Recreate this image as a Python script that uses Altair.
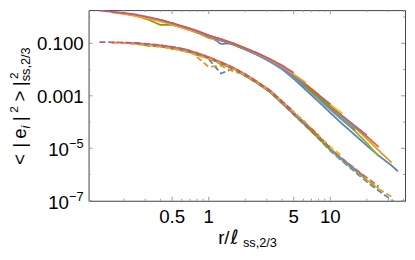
import altair as alt
import pandas as pd

FONT = "Liberation Sans"

# shared log-spaced abscissa grid (r / l_ss,2/3)
grid_x = [0.126, 0.16, 0.2, 0.25, 0.32, 0.4, 0.5, 0.63, 0.8, 1.0, 1.26, 1.6, 2.0,
          2.5, 3.2, 4.0, 5.0, 6.3, 8.0, 10.0, 12.6, 16.0, 20.0, 25.0, 32.0, 36.0]

series_names = ["c01", "c02", "c03", "c04", "c05", "c06", "c07",
                "c08", "c09", "c10", "c11", "c12", "c13", "c14"]
series_colors = ["#5E81B5", "#E19C24", "#8FB032", "#EB6235", "#8778B3", "#C56E1A", "#5D9EC7",
                 "#FFBF00", "#A5609D", "#929600", "#E95536", "#6685D9", "#F89F13", "#BC5B80"]
series_start = [9, 8, 7, 7, 6, 5, 5, 4, 3, 3, 2, 1, 1, 0]

# log10 of <|e_1|^2> (solid, upper bundle)
upper_log = [
    [-0.70, -1.02, -1.00, -1.22, -1.42, -1.70, -1.98, -2.35, -2.78, -3.22, -3.65, -4.08, -4.50, -4.90, -5.28, -5.66, -5.88],
    [-0.58, -0.80, -0.90, -1.00, -1.18, -1.40, -1.64, -1.90, -2.22, -2.60, -3.02, -3.42, -3.82, -4.22, -4.64, -5.08, -5.55],
    [-0.42, -0.60, -0.74, -0.84, -1.05, -1.22, -1.43, -1.68, -1.95, -2.28, -2.68, -3.10, -3.52, -3.93, -4.35, -4.80, -5.30],
    [-0.36, -0.52, -0.70, -0.88, -1.02, -1.20, -1.38, -1.62, -1.88, -2.20, -2.58, -2.98, -3.38, -3.78, -4.18, -4.55, -4.95],
    [-0.22, -0.40, -0.54, -0.70, -0.85, -1.02, -1.20, -1.38, -1.63, -1.89, -2.21, -2.58, -2.98, -3.38, -3.77, -4.15, -4.50],
    [-0.13, -0.26, -0.38, -0.56, -0.73, -0.87, -1.04, -1.22, -1.42, -1.67, -1.93, -2.27, -2.66, -3.07, -3.48, -3.90, -4.30],
    [-0.10, -0.25, -0.41, -0.57, -0.74, -0.88, -1.05, -1.24, -1.44, -1.70, -1.97, -2.30, -2.70, -3.12, -3.53, -3.92, -4.28],
    [-0.03, -0.12, -0.23, -0.38, -0.53, -0.70, -0.84, -1.00, -1.18, -1.37, -1.62, -1.88, -2.20, -2.57, -2.96, -3.33, -3.68],
    [0.07, -0.03, -0.12, -0.25, -0.40, -0.55, -0.71, -0.85, -1.02, -1.20, -1.39, -1.64, -1.90, -2.22, -2.58, -2.97, -3.32],
    [0.06, -0.10, -0.30, -0.30, -0.42, -0.57, -0.73, -0.88, -1.05, -1.23, -1.42, -1.67, -1.93, -2.26, -2.64, -3.05, -3.40],
    [0.14, 0.06, -0.04, -0.13, -0.26, -0.40, -0.56, -0.72, -0.86, -1.03, -1.21, -1.40, -1.64, -1.90, -2.22, -2.58, -2.95],
    [0.19, 0.14, 0.07, -0.03, -0.12, -0.25, -0.40, -0.56, -0.73, -0.87, -1.04, -1.22, -1.42, -1.67, -1.93, -2.25, -2.60],
    [0.18, 0.12, 0.04, -0.06, -0.16, -0.28, -0.44, -0.56, -0.71, -0.85, -1.02, -1.20, -1.39, -1.63, -1.88, -2.18, -2.50],
    [0.25, 0.20, 0.16, 0.10, 0.00, -0.10, -0.23, -0.37, -0.53, -0.70, -0.84, -1.01, -1.19, -1.37, -1.60, -1.84, -2.12],
]

# log10 of <|e_2|^2> (dashed, lower bundle)
lower_log = [
    [-1.60, -2.15, -1.95, -2.24, -2.50, -2.84, -3.28, -3.72, -4.16, -4.62, -5.10, -5.50, -5.90, -6.28, -6.62, -6.97, -7.15],
    [-1.52, -1.90, -1.85, -2.08, -2.18, -2.50, -2.85, -3.27, -3.68, -4.12, -4.58, -5.05, -5.45, -5.85, -6.22, -6.55, -6.85],
    [-1.28, -1.45, -1.56, -1.80, -1.97, -2.24, -2.52, -2.86, -3.28, -3.70, -4.15, -4.62, -5.08, -5.47, -5.86, -6.22, -6.52],
    [-1.22, -1.36, -1.52, -1.72, -1.93, -2.18, -2.46, -2.80, -3.22, -3.64, -4.08, -4.54, -5.00, -5.40, -5.78, -6.12, -6.45],
    [-1.18, -1.30, -1.40, -1.55, -1.74, -1.95, -2.20, -2.47, -2.81, -3.23, -3.65, -4.08, -4.55, -5.02, -5.42, -5.80, -6.15],
    [-1.10, -1.20, -1.25, -1.42, -1.56, -1.74, -1.97, -2.22, -2.50, -2.84, -3.26, -3.68, -4.12, -4.59, -5.06, -5.46, -5.84],
    [-1.12, -1.16, -1.26, -1.40, -1.57, -1.76, -1.98, -2.23, -2.51, -2.85, -3.28, -3.71, -4.15, -4.62, -5.08, -5.48, -5.85],
    [-1.04, -1.09, -1.14, -1.22, -1.36, -1.52, -1.71, -1.93, -2.18, -2.45, -2.79, -3.20, -3.62, -4.05, -4.50, -4.95, -5.30],
    [-0.99, -1.03, -1.08, -1.15, -1.24, -1.38, -1.54, -1.73, -1.95, -2.20, -2.48, -2.82, -3.24, -3.66, -4.10, -4.55, -4.98],
    [-1.00, -1.10, -1.12, -1.20, -1.26, -1.40, -1.57, -1.76, -1.98, -2.23, -2.51, -2.86, -3.28, -3.70, -4.14, -4.60, -5.04],
    [-0.97, -0.99, -1.04, -1.08, -1.14, -1.23, -1.38, -1.54, -1.73, -1.95, -2.20, -2.48, -2.82, -3.24, -3.66, -4.08, -4.50],
    [-0.96, -0.98, -1.00, -1.05, -1.10, -1.16, -1.25, -1.40, -1.56, -1.75, -1.97, -2.22, -2.50, -2.84, -3.26, -3.68, -4.12],
    [-0.97, -0.99, -1.03, -1.08, -1.13, -1.20, -1.30, -1.45, -1.58, -1.75, -1.96, -2.21, -2.48, -2.82, -3.22, -3.62, -4.02],
    [-0.95, -0.96, -0.97, -0.99, -1.02, -1.07, -1.13, -1.22, -1.37, -1.53, -1.72, -1.93, -2.18, -2.46, -2.80, -3.20, -3.60],
]

x_major_ticks = [0.5, 1, 5, 10]
x_major_labels = ["0.5", "1", "5", "10"]
x_minor_ticks = [0.2, 0.3, 0.4, 0.6, 0.7, 0.8, 0.9, 2, 3, 4, 6, 7, 8, 9, 20, 30, 40]
y_major_ticks = [1e-1, 1e-3, 1e-5, 1e-7]
y_minor_ticks = [1, 1e-2, 1e-4, 1e-6]
y_plain_values = [1e-1, 1e-3]
y_plain_labels = ["0.100", "0.001"]
y_pow_values = [1e-5, 1e-7]
y_pow_exponents = ["\u22125", "\u22127"]

rows = []
for style, table in (("solid", upper_log), ("dashed", lower_log)):
    for name, start, vals in zip(series_names, series_start, table):
        for j, v in enumerate(vals):
            rows.append({"x": grid_x[start + j], "y": 10 ** v, "series": name,
                         "style": style, "key": name + style, "idx": j})
df = pd.DataFrame(rows)

W, H = 322, 194
xs = alt.Scale(type="log", domain=[0.1026, 41.2], nice=False)
ys = alt.Scale(type="log", domain=[1e-7, 1.85], nice=False)
TICK = "#999999"

lines = alt.Chart(df).mark_line(strokeWidth=1.8, clip=True).encode(
    x=alt.X("x:Q", scale=xs, axis=None),
    y=alt.Y("y:Q", scale=ys, axis=None),
    color=alt.Color("series:N", scale=alt.Scale(domain=series_names, range=series_colors), legend=None),
    strokeDash=alt.StrokeDash("style:N", scale=alt.Scale(domain=["solid", "dashed"], range=[[1, 0], [6, 3]]), legend=None),
    detail="key:N",
    order="idx:Q",
)

def xticks(vals, length):
    d = pd.DataFrame({"v": vals})
    bot = alt.Chart(d).mark_rule(color=TICK, strokeWidth=1).encode(
        x=alt.X("v:Q", scale=xs, axis=None), y=alt.value(H), y2=alt.value(H - length))
    top = alt.Chart(d).mark_rule(color=TICK, strokeWidth=1).encode(
        x=alt.X("v:Q", scale=xs, axis=None), y=alt.value(0), y2=alt.value(length))
    return [bot, top]

def yticks(vals, length):
    d = pd.DataFrame({"v": vals})
    left = alt.Chart(d).mark_rule(color=TICK, strokeWidth=1).encode(
        y=alt.Y("v:Q", scale=ys, axis=None), x=alt.value(0), x2=alt.value(length))
    right = alt.Chart(d).mark_rule(color=TICK, strokeWidth=1).encode(
        y=alt.Y("v:Q", scale=ys, axis=None), x=alt.value(W), x2=alt.value(W - length))
    return [left, right]

xlab = alt.Chart(pd.DataFrame({"v": x_major_ticks, "t": x_major_labels})).mark_text(
    align="center", baseline="alphabetic", font=FONT, fontSize=19, color="black").encode(
    x=alt.X("v:Q", scale=xs, axis=None), y=alt.value(217), text="t:N")

ylab = alt.Chart(pd.DataFrame({"v": y_plain_values, "t": y_plain_labels})).mark_text(
    align="right", baseline="alphabetic", font=FONT, fontSize=19, color="black", dy=7).encode(
    y=alt.Y("v:Q", scale=ys, axis=None), x=alt.value(-5), text="t:N")

ypow_base = alt.Chart(pd.DataFrame({"v": y_pow_values, "t": ["10", "10"]})).mark_text(
    align="right", baseline="alphabetic", font=FONT, fontSize=19, color="black", dy=8).encode(
    y=alt.Y("v:Q", scale=ys, axis=None), x=alt.value(-20), text="t:N")

ypow_exp = alt.Chart(pd.DataFrame({"v": y_pow_values, "t": y_pow_exponents})).mark_text(
    align="right", baseline="alphabetic", font=FONT, fontSize=13, color="black", dy=0).encode(
    y=alt.Y("v:Q", scale=ys, axis=None), x=alt.value(-5), text="t:N")


def note(text, x, y, size, angle=0, italic=False, font=FONT):
    return alt.Chart(alt.Data(values=[{"t": text}])).mark_text(
        align="left", baseline="alphabetic", font=font, fontSize=size, angle=angle,
        fontStyle="italic" if italic else "normal", color="black",
    ).encode(x=alt.value(x), y=alt.value(y), text="t:N")

MAIN_X, SUP_X, SUB_X = -63.5, -71.5, -59.5
ytitle = [
    note("<", MAIN_X, 157.5, 19, 270),
    note("|", MAIN_X, 140, 19, 270),
    note("e", MAIN_X, 131, 19, 270),
    note("i", SUB_X, 120.5, 13, 270, italic=True),
    note("|", MAIN_X, 113, 19, 270),
    note("2", SUP_X, 104.5, 12, 270),
    note(">", MAIN_X, 93, 19, 270),
    note("|", MAIN_X, 77.5, 19, 270),
    note("2", SUP_X, 70, 12, 270),
    note("ss,2/3", SUB_X, 72.5, 13, 270),
]
xtitle = [
    note("r", 132, 238, 19),
    note("/", 138, 238, 19),
    note("\u2113", 144.5, 238, 20, font="DejaVu Sans"),
    note("ss,2/3", 157, 241, 13),
]

layers = [lines] + xticks(x_major_ticks, 4) + xticks(x_minor_ticks, 2) \
    + yticks(y_major_ticks, 4) + yticks(y_minor_ticks, 2) \
    + [xlab, ylab, ypow_base, ypow_exp] + ytitle + xtitle

chart = alt.layer(*layers).properties(
    width=W, height=H,
    autosize=alt.AutoSizeParams(type="none"),
    padding={"left": 82, "top": 0, "right": 2, "bottom": 50},
).configure_view(stroke="#404040", strokeWidth=1)

chart.save("out.html", embed_options={"renderer": "svg", "actions": False})
